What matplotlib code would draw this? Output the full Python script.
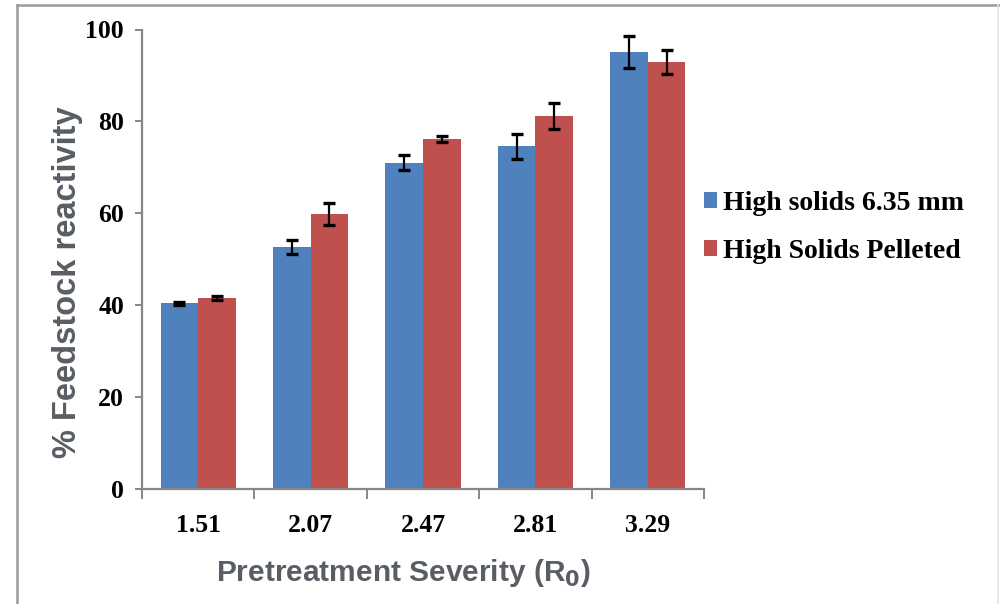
import matplotlib
matplotlib.use("Agg")
import matplotlib.pyplot as plt
from matplotlib.lines import Line2D
from matplotlib.ticker import FixedLocator
import numpy as np

categories = ["1.51", "2.07", "2.47", "2.81", "3.29"]
series_names = ["High solids 6.35 mm", "High Solids Pelleted"]
solids_635 = [40.4, 52.7, 71.0, 74.6, 95.1]
solids_635_err = [0.3, 1.5, 1.6, 2.7, 3.4]
pelleted = [41.5, 59.9, 76.2, 81.2, 93.0]
pelleted_err = [0.4, 2.4, 0.7, 2.8, 2.6]
y_ticks = [0, 20, 40, 60, 80, 100]

BLUE = "#4F81BD"
RED = "#C0504D"
AXIS_GRAY = "#868686"
TITLE_GRAY = "#595e65"

W, H = 1000, 604
fig = plt.figure(figsize=(W / 100, H / 100), dpi=100)
fig.patch.set_facecolor("white")

ax = fig.add_axes([142 / W, 1 - 489 / H, (704 - 142) / W, (489 - 29.5) / H])

x = np.arange(len(categories))
bw = 0.335
tick_font = dict(family="Liberation Serif", weight="bold", size=18.5)

ax.bar(x - bw / 2, solids_635, bw, color=BLUE, label=series_names[0], zorder=2)
ax.bar(x + bw / 2, pelleted, bw, color=RED, label=series_names[1], zorder=2)
ax.errorbar(x - bw / 2, solids_635, yerr=solids_635_err, fmt="none",
            ecolor="black", elinewidth=1.6, capsize=4, capthick=2.4, zorder=3)
ax.errorbar(x + bw / 2, pelleted, yerr=pelleted_err, fmt="none",
            ecolor="black", elinewidth=1.6, capsize=4, capthick=2.4, zorder=3)

ax.set_xlim(-0.5, len(categories) - 0.5)
ax.set_ylim(0, 100)

for s in ("top", "right"):
    ax.spines[s].set_visible(False)
for s in ("left", "bottom"):
    ax.spines[s].set_color(AXIS_GRAY)
    ax.spines[s].set_linewidth(1.6)

ax.set_yticks(y_ticks)
ax.set_yticklabels([str(v) for v in y_ticks], fontdict=tick_font)
ax.tick_params(axis="y", direction="out", length=5, width=1.4, color=AXIS_GRAY, pad=8)

ax.set_xticks(x)
ax.set_xticklabels(categories, fontdict=tick_font)
ax.tick_params(axis="x", which="major", length=0, pad=18)
ax.xaxis.set_minor_locator(FixedLocator(np.arange(-0.5, len(categories), 1.0)))
ax.tick_params(axis="x", which="minor", direction="out", length=7, width=1.4, color=AXIS_GRAY)

fig.text(68 / W, 1 - 282 / H, "% Feedstock reactivity", rotation=90,
         ha="center", va="center", color=TITLE_GRAY,
         family="Liberation Sans", weight="bold", size=23.5)
fig.text(403 / W, 1 - 573 / H, "Pretreatment Severity (R$_\\mathbf{0}$)",
         ha="center", va="center", color=TITLE_GRAY,
         family="Liberation Sans", weight="bold", size=21.5)

leg = fig.legend(loc="upper left", bbox_to_anchor=(704 / W, 1 - 191 / H),
                 frameon=False, prop=dict(family="Liberation Serif", weight="bold", size=20),
                 handlelength=0.47, handleheight=0.5, handletextpad=0.2,
                 labelspacing=0.83, borderaxespad=0, borderpad=0)

# outer frame
fig.add_artist(Line2D([17 / W, 1.0], [1 - 5 / H, 1 - 5 / H], color="#9a9a9a", lw=1.8))
fig.add_artist(Line2D([17 / W, 17 / W], [1 - 5 / H, 0.0], color="#9a9a9a", lw=1.8))
fig.add_artist(Line2D([998 / W, 998 / W], [1 - 5 / H, 0.0], color="#e4e4e4", lw=1.2))

fig.savefig("out.png", dpi=100, facecolor="white")
